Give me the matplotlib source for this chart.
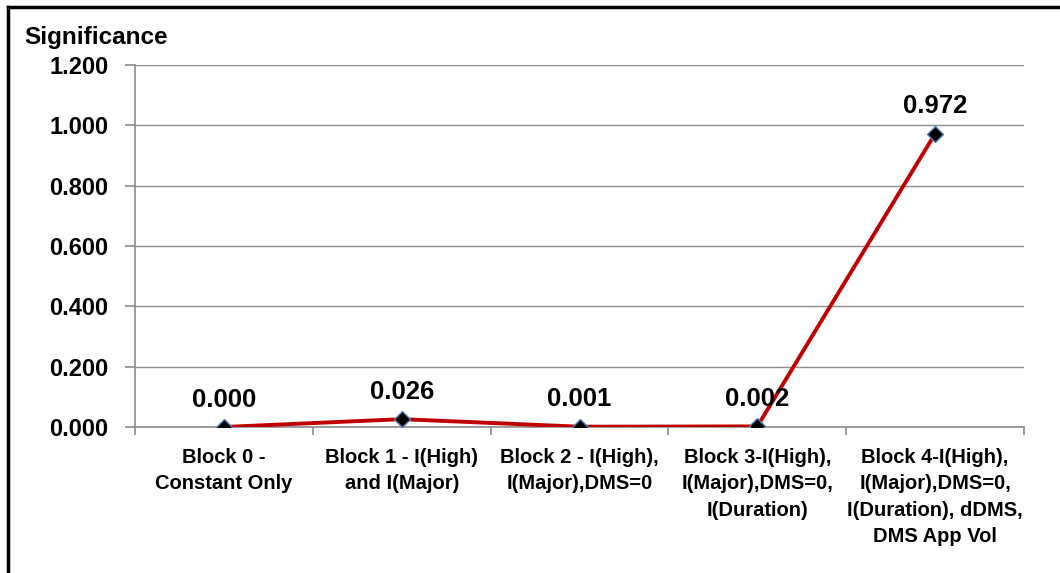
import matplotlib
matplotlib.use("Agg")
import matplotlib.pyplot as plt
from matplotlib.lines import Line2D

# Chart data
categories = [
    "Block 0 -\nConstant Only",
    "Block 1 - I(High)\nand I(Major)",
    "Block 2 - I(High),\nI(Major),DMS=0",
    "Block 3-I(High),\nI(Major),DMS=0,\nI(Duration)",
    "Block 4-I(High),\nI(Major),DMS=0,\nI(Duration), dDMS,\nDMS App Vol",
]
significance = [0.000, 0.026, 0.001, 0.002, 0.972]
y_ticks = [0.0, 0.2, 0.4, 0.6, 0.8, 1.0, 1.2]

LINE_COLOR = "#C00000"
GRID_COLOR = "#8C8C8C"
plt.rcParams["font.family"] = ["Liberation Sans", "DejaVu Sans"]
plt.rcParams["font.weight"] = "bold"

fig = plt.figure(figsize=(10.6, 5.73), dpi=100)
ax = fig.add_axes([0.1274, 0.2548, 0.8386, 0.6318])

x = list(range(len(categories)))
ax.plot(x, significance, color=LINE_COLOR, linewidth=2.8, zorder=3,
        marker="D", markersize=8.5, markerfacecolor="black",
        markeredgecolor="#4F81BD", markeredgewidth=1.0)

for xi, v in zip(x, significance):
    ax.annotate(f"{v:.3f}", (xi, v), xytext=(0, 11), textcoords="offset points",
                ha="center", va="bottom", fontsize=18.5, fontweight="bold", zorder=4)

ax.set_xlim(-0.5, len(categories) - 0.5)
ax.set_ylim(0, 1.2)
ax.set_yticks(y_ticks)
ax.set_yticklabels([f"{t:.3f}" for t in y_ticks])
ax.set_xticks(x)
ax.set_xticklabels(categories, fontsize=14.5, fontweight="bold", linespacing=1.5)
ax.set_xticks([i - 0.5 for i in range(len(categories) + 1)], minor=True)
ax.tick_params(axis="x", which="major", length=0, pad=15)
ax.tick_params(axis="x", which="minor", length=6, color=GRID_COLOR, width=1.2)
ax.tick_params(axis="y", length=7, color=GRID_COLOR, width=1.2, labelsize=17, pad=12)
for lbl in ax.get_yticklabels():
    lbl.set_fontweight("bold")

ax.grid(axis="y", color=GRID_COLOR, linewidth=1.0)
ax.set_axisbelow(True)
for side in ("top", "right"):
    ax.spines[side].set_visible(False)
for side in ("left", "bottom"):
    ax.spines[side].set_color(GRID_COLOR)
    ax.spines[side].set_linewidth(1.2)

fig.text(0.0226, 0.934, "Significance", fontsize=17.5, fontweight="bold",
         ha="left", va="center")

# outer frame (top and left edges only are visible in the reference)
fig.add_artist(Line2D([0.0075, 1.0], [0.9885, 0.9885], color="black", linewidth=2.5))
fig.add_artist(Line2D([0.0075, 0.0075], [0.0, 0.9885], color="black", linewidth=2.5))

fig.savefig("out.png", dpi=100)
